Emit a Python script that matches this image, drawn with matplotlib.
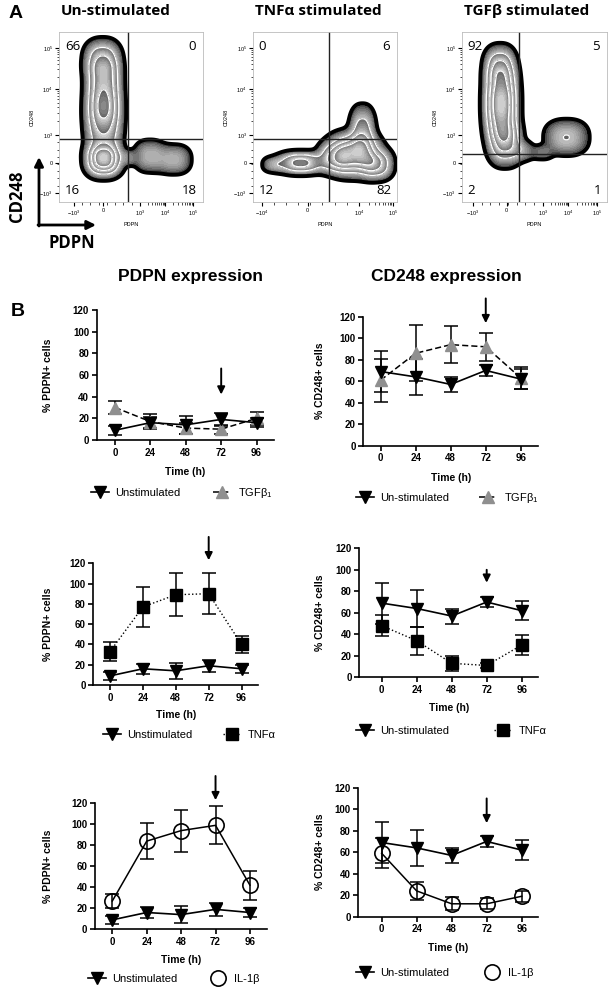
import numpy as np
import matplotlib.pyplot as plt
from matplotlib.colors import to_hex
from matplotlib.lines import Line2D

W, H = 609, 992

# ---------------- panel A data (flow plots) ----------------
flow_titles = ['Un-stimulated', 'TNFα stimulated', 'TGFβ stimulated']
# quadrant percentages: upper-left, upper-right, lower-left, lower-right
flow_quadrants = [[66, 0, 16, 18], [0, 6, 12, 82], [92, 5, 2, 1]]
# density blobs: (x, y, sx, sy, weight) in axes fraction
unstim_blobs = [(0.31, 0.66, 0.075, 0.13, 1.0), (0.31, 0.25, 0.075, 0.06, 1.3),
                (0.31, 0.45, 0.078, 0.11, 0.7), (0.30, 0.84, 0.078, 0.07, 0.5),
                (0.63, 0.27, 0.07, 0.06, 0.35), (0.80, 0.25, 0.075, 0.055, 0.35),
                (0.48, 0.26, 0.04, 0.03, 0.2)]
tnf_blobs = [(0.33, 0.23, 0.10, 0.04, 0.8), (0.70, 0.28, 0.11, 0.075, 1.2),
             (0.76, 0.42, 0.055, 0.09, 0.5), (0.86, 0.22, 0.07, 0.055, 0.6),
             (0.56, 0.26, 0.07, 0.055, 0.5), (0.14, 0.22, 0.05, 0.03, 0.25)]
tgf_blobs = [(0.27, 0.58, 0.07, 0.15, 1.2), (0.26, 0.80, 0.065, 0.07, 0.45),
             (0.30, 0.35, 0.07, 0.08, 0.6), (0.42, 0.30, 0.05, 0.04, 0.2),
             (0.55, 0.29, 0.05, 0.03, 0.15), (0.72, 0.38, 0.095, 0.065, 0.35)]
flow_blobs = [unstim_blobs, tnf_blobs, tgf_blobs]
gate_x = [0.479, 0.53, 0.39]
gate_y = [0.37, 0.37, 0.28]
flow_xtick_pos = [[0.104, 0.306, 0.5625, 0.736, 0.93],
                  [0.06, 0.38, 0.736, 0.972],
                  [0.074, 0.308, 0.559, 0.731, 0.931]]
flow_xtick_lab = [['$-10^3$', '0', '$10^3$', '$10^4$', '$10^5$'],
                  ['$-10^4$', '0', '$10^4$', '$10^5$'],
                  ['$-10^3$', '0', '$10^3$', '$10^4$', '$10^5$']]
flow_ytick_pos = [0.053, 0.229, 0.394, 0.665, 0.906]
flow_ytick_lab = ['$-10^3$', '0', '$10^3$', '$10^4$', '$10^5$']

# ---------------- panel B data (time courses) ----------------
time_h = [0, 24, 48, 72, 96]
pdpn_unstim = [9, 16, 14, 19, 16]
pdpn_unstim_err = [4, 5, 8, 6, 4]
pdpn_tgf = [30, 17, 11, 10, 20]
pdpn_tgf_err = [6, 7, 5, 4, 6]
pdpn_tnf = [33, 77, 89, 90, 40]
pdpn_tnf_err = [9, 20, 21, 20, 8]
pdpn_il1 = [27, 84, 94, 99, 42]
pdpn_il1_err = [7, 17, 20, 18, 14]
cd248_unstim = [69, 64, 57, 70, 62]
cd248_unstim_err = [19, 17, 7, 5, 9]
cd248_tgf = [61, 86, 94, 92, 63]
cd248_tgf_err = [20, 26, 17, 13, 10]
cd248_tnf = [48, 34, 13, 11, 30]
cd248_tnf_err = [10, 13, 7, 2, 9]
cd248_il1 = [59, 24, 12, 12, 19]
cd248_il1_err = [14, 8, 6, 5, 5]
# arrow at 72 h: (top, tip) in % units
arrow_spans = [(66, 42), (137, 114), (146, 123), (100, 88), (146, 123), (110, 87)]

plt.rcParams['font.family'] = ['Liberation Sans', 'DejaVu Sans']
plt.rcParams['mathtext.default'] = 'regular'

fig = plt.figure(figsize=(W / 100, H / 100), dpi=100)


def px_axes(left, top, right, bottom):
    return fig.add_axes([left / W, 1 - bottom / H, (right - left) / W, (bottom - top) / H])


def blob_density(blobs, n=320):
    gx, gy = np.meshgrid(np.linspace(0, 1, n), np.linspace(0, 1, n))
    z = np.zeros_like(gx)
    for bx, by, sx, sy, w in blobs:
        z += w * np.exp(-0.5 * (np.abs((gx - bx) / sx) ** 2.4 + np.abs((gy - by) / sy) ** 2.4))
    return gx, gy, z


def minor_positions(major):
    out = []
    for a, b in zip(major[:-1], major[1:]):
        out += [a + (b - a) * np.log10(m) for m in range(2, 10)]
    return out


flow_boxes = [(59, 32, 203, 202), (253, 32, 397, 202), (462, 32, 607, 202)]
for i, box in enumerate(flow_boxes):
    ax = px_axes(*box)
    gx, gy, z = blob_density(flow_blobs[i])
    thr = 0.05 * z.max()
    levels = np.linspace(thr, z.max() * 1.001, 37)
    n_bands = 4
    cols = []
    for k in range(len(levels) - 1):
        band = k / (len(levels) - 1) * n_bands
        frac = band - np.floor(band)
        if band < 1:
            g = 0.05 + 0.72 * frac ** 0.5
        else:
            g = 0.38 + 0.48 * frac
        cols.append(to_hex((g, g, g)))
    ax.contourf(gx, gy, z, levels=levels, colors=cols)
    step = (len(levels) - 1) // n_bands
    ax.contour(gx, gy, z, levels=levels[step:-1:step], colors='white', linewidths=0.9)
    ax.contour(gx, gy, z, levels=[thr], colors='black', linewidths=2.8)
    ax.axvline(gate_x[i], color='#222222', lw=1.0)
    ax.axhline(gate_y[i], color='#222222', lw=1.0)
    ax.set_xlim(0, 1)
    ax.set_ylim(0, 1)
    for s in ax.spines.values():
        s.set_color('#bbbbbb')
        s.set_linewidth(0.6)
    xt = flow_xtick_pos[i]
    ax.set_xticks(xt)
    ax.set_xticklabels(flow_xtick_lab[i])
    ax.set_yticks(flow_ytick_pos)
    ax.set_yticklabels(flow_ytick_lab)
    ax.set_xticks(minor_positions(xt[2:]) + list(np.linspace(xt[0], xt[2], 9)), minor=True)
    ax.set_yticks(minor_positions(flow_ytick_pos[2:]) + list(np.linspace(0.053, 0.394, 9)), minor=True)
    ax.tick_params(which='major', length=3, width=0.8, labelsize=4, pad=1.5, direction='out')
    ax.tick_params(which='minor', length=1.8, width=0.5, direction='out')
    ax.set_xlabel('PDPN', fontsize=4, labelpad=3)
    ax.set_ylabel('CD248', fontsize=4, labelpad=3)
    ul, ur, ll, lr = flow_quadrants[i]
    qkw = dict(fontsize=9.5, family=['Open Sans', 'DejaVu Sans'], transform=ax.transAxes, va='center')
    ax.text(0.04, 0.915, str(ul), ha='left', **qkw)
    ax.text(0.95, 0.915, str(ur), ha='right', **qkw)
    ax.text(0.04, 0.065, str(ll), ha='left', **qkw)
    ax.text(0.96, 0.065, str(lr), ha='right', **qkw)

title_x = [116, 318, 527]
for t, x in zip(flow_titles, title_x):
    fig.text(x / W, 1 - 11 / H, t, ha='center', va='center', fontsize=11,
             fontweight='bold', family=['Open Sans', 'DejaVu Sans'])

# ---------------- panel B charts ----------------
unstim_style = dict(color='black', marker='v', ms=9, lw=1.2, ls='-')
charts = [
    dict(box=(96.7, 310, 274, 440), xl=-12.4, xr=107.8, ylab='% PDPN+ cells', ylx=53, tly=467,
         un=(pdpn_unstim, pdpn_unstim_err), tr=(pdpn_tgf, pdpn_tgf_err), kind='tgf',
         unlab='Unstimulated', leg=(493, 100, 222)),
    dict(box=(363.3, 316.7, 538.3, 445.7), xl=-11.9, xr=108, ylab='% CD248+ cells', ylx=325, tly=473,
         un=(cd248_unstim, cd248_unstim_err), tr=(cd248_tgf, cd248_tgf_err), kind='tgf',
         unlab='Un-stimulated', leg=(498, 365, 488)),
    dict(box=(93.3, 563.3, 258.3, 685), xl=-12.2, xr=108.2, ylab='% PDPN+ cells', ylx=53, tly=710,
         un=(pdpn_unstim, pdpn_unstim_err), tr=(pdpn_tnf, pdpn_tnf_err), kind='tnf',
         unlab='Unstimulated', leg=(735, 112, 232)),
    dict(box=(359.3, 548.3, 538.3, 677.3), xl=-15.4, xr=107.4, ylab='% CD248+ cells', ylx=325, tly=703,
         un=(cd248_unstim, cd248_unstim_err), tr=(cd248_tnf, cd248_tnf_err), kind='tnf',
         unlab='Un-stimulated', leg=(731, 365, 503)),
    dict(box=(95, 803.3, 266.7, 929.3), xl=-12.1, xr=107.7, ylab='% PDPN+ cells', ylx=53, tly=955,
         un=(pdpn_unstim, pdpn_unstim_err), tr=(pdpn_il1, pdpn_il1_err), kind='il1',
         unlab='Unstimulated', leg=(979, 97, 218)),
    dict(box=(358.3, 787.7, 538.3, 916.7), xl=-16, xr=107.4, ylab='% CD248+ cells', ylx=325, tly=943,
         un=(cd248_unstim, cd248_unstim_err), tr=(cd248_il1, cd248_il1_err), kind='il1',
         unlab='Un-stimulated', leg=(973, 365, 492)),
]
treat_styles = {
    'tgf': (dict(color='black', mfc='#8f8f8f', mec='#8f8f8f', marker='^', ms=9, lw=1.1, ls=(0, (4, 2))),
            'TGFβ$_1$'),
    'tnf': (dict(color='black', marker='s', ms=8, lw=1.0, ls=':'), 'TNFα'),
    'il1': (dict(color='black', mfc='none', mec='black', mew=1.2, marker='o', ms=11, lw=1.1, ls='-'),
            'IL-1β'),
}

leg_fs = 8
for c, (top_a, tip_a) in zip(charts, arrow_spans):
    left, top, right, bottom = c['box']
    ax = px_axes(left, top, right, bottom)
    style, tlab = treat_styles[c['kind']]
    tv, te = c['tr']
    uv, ue = c['un']
    ekw = dict(fmt='none', ecolor='black', elinewidth=1.1, capsize=5, capthick=1.1, clip_on=False)
    ax.errorbar(time_h, tv, yerr=te, zorder=2, **ekw)
    ax.errorbar(time_h, uv, yerr=ue, zorder=2, **ekw)
    h_tr, = ax.plot(time_h, tv, zorder=3, clip_on=False, **style)
    h_un, = ax.plot(time_h, uv, zorder=4, clip_on=False, **unstim_style)
    if c['kind'] == 'il1':
        # legend shows the open circle on its own
        h_tr = Line2D([], [], color='black', mfc='white', mec='black', mew=1.2,
                      marker='o', ms=11, ls='none')
    ax.set_xlim(c['xl'], c['xr'])
    ax.set_ylim(0, 120)
    ax.set_xticks(time_h)
    ax.set_yticks(range(0, 121, 20))
    for s in ['top', 'right']:
        ax.spines[s].set_visible(False)
    for s in ['left', 'bottom']:
        ax.spines[s].set_linewidth(1.2)
    ax.tick_params(length=3.5, width=1.2, labelsize=7, pad=2)
    for lab in ax.get_xticklabels() + ax.get_yticklabels():
        lab.set_fontweight('bold')
    ax.set_xlabel('Time (h)', fontsize=7.5, fontweight='bold')
    ax.xaxis.set_label_coords(0.5, -(c['tly'] - bottom) / (bottom - top))
    ax.set_ylabel(c['ylab'], fontsize=7.5, fontweight='bold')
    ax.yaxis.set_label_coords((c['ylx'] - left) / (right - left), 0.5)
    ax.annotate('', xy=(72, tip_a), xytext=(72, top_a), annotation_clip=False,
                arrowprops=dict(arrowstyle='-|>', color='black', lw=1.4, mutation_scale=11,
                                shrinkA=0, shrinkB=0))
    # legends (one entry each, placed under the chart)
    ly, m1, m2 = c['leg']
    hl_px = 1.6 * leg_fs * 100 / 72
    for h, lab, mx in [(h_un, c['unlab'], m1), (h_tr, tlab, m2)]:
        fig.legend([h], [lab], loc='center left', frameon=False, fontsize=leg_fs,
                   bbox_to_anchor=((mx - hl_px / 2) / W, 1 - ly / H), borderpad=0,
                   borderaxespad=0, handlelength=1.6, handletextpad=0.6)

# ---------------- overlay labels ----------------
ov = fig.add_axes([0, 0, 1, 1])
ov.set_xlim(0, W)
ov.set_ylim(H, 0)
ov.axis('off')
ov.text(9, 14, 'A', fontsize=14, fontweight='bold', ha='left', va='center')
ov.text(11, 312, 'B', fontsize=14, fontweight='bold', ha='left', va='center')
ov.text(191, 277, 'PDPN expression', fontsize=12.5, fontweight='bold', ha='center', va='center')
ov.text(446, 277, 'CD248 expression', fontsize=12.5, fontweight='bold', ha='center', va='center')
ov.text(72, 243, 'PDPN', fontsize=12, fontweight='bold', ha='center', va='center',
        family=['Open Sans', 'DejaVu Sans'])
ov.text(17, 196, 'CD248', fontsize=12, fontweight='bold', ha='center', va='center',
        rotation=90, family=['Open Sans', 'DejaVu Sans'])
akw = dict(arrowstyle='-|>', color='black', lw=2.0, mutation_scale=13, shrinkA=0, shrinkB=0)
ov.annotate('', xy=(39, 157), xytext=(39, 226), arrowprops=akw)
ov.annotate('', xy=(96, 225), xytext=(38, 225), arrowprops=akw)

fig.savefig('out.png', dpi=100)
